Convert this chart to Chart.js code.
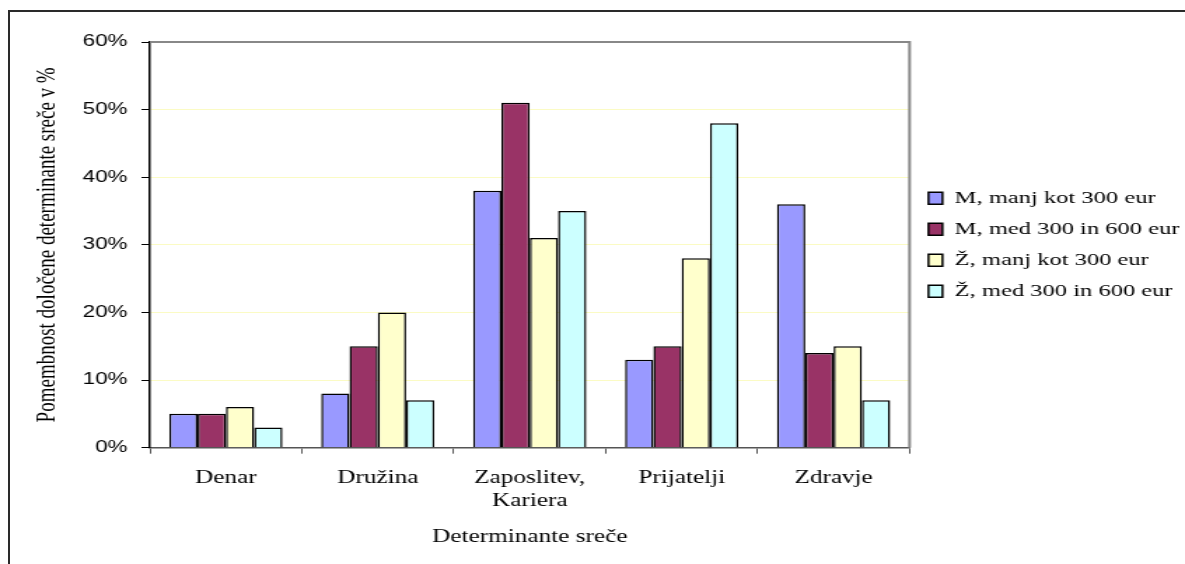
<!DOCTYPE html>
<html>
<head>
<meta charset="utf-8">
<script src="https://cdn.jsdelivr.net/npm/chart.js@4/dist/chart.umd.min.js"></script>
<style>
  html, body { margin: 0; padding: 0; background: #fff; overflow: hidden; }
  #frame {
    position: absolute; left: 8px; top: 10px; width: 1400px; height: 800px;
    border-top: 2px solid #2a2a2a; border-left: 2px solid #2a2a2a;
  }
  #chart { position: absolute; left: 0; top: 0; width: 1185px; height: 564px; }
</style>
</head>
<body>
<div id="frame"></div>
<canvas id="chart" width="846" height="564" style="width:1185px;height:564px"></canvas>
<script>
// categories and series (percent)
const categories = ["Denar", "Družina", ["Zaposlitev,", "Kariera"], "Prijatelji", "Zdravje"];
const seriesNames = ["M, manj kot 300 eur", "M, med 300 in 600 eur", "Ž, manj kot 300 eur", "Ž, med 300 in 600 eur"];
const mLow = [5, 8, 38, 13, 36];
const mMid = [5, 15, 51, 15, 14];
const zLow = [6, 20, 31, 28, 15];
const zMid = [3, 7, 35, 48, 7];
const seriesColors = ["#9999ff", "#993366", "#ffffcc", "#ccffff"];

const serif = "'Liberation Serif', 'Times New Roman', serif";
const sans = "'Liberation Sans', Arial, sans-serif";

// gray border on the top and right side of the plot area
const plotFrame = {
  id: "plotFrame",
  afterDraw(chart) {
    const { ctx, chartArea: a } = chart;
    ctx.save();
    ctx.strokeStyle = "#888";
    ctx.lineWidth = 2;
    ctx.beginPath();
    ctx.moveTo(a.left, a.top);
    ctx.lineTo(a.right, a.top);
    ctx.lineTo(a.right, a.bottom);
    ctx.stroke();
    ctx.restore();
  }
};

const values = [mLow, mMid, zLow, zMid];

new Chart(document.getElementById("chart"), {
  type: "bar",
  data: {
    labels: categories,
    datasets: values.map((v, i) => ({
      label: seriesNames[i],
      data: v,
      backgroundColor: seriesColors[i],
      borderColor: "#000",
      borderWidth: 1.5,
      categoryPercentage: 0.745,
      barPercentage: 1
    }))
  },
  options: {
    responsive: false,
    animation: false,
    events: [],
    layout: { padding: { top: 42, left: 22.6, right: -6, bottom: 12 } },
    plugins: {
      tooltip: { enabled: false },
      legend: {
        position: "right",
        fullSize: false,
        labels: {
          color: "#000",
          font: { family: serif, size: 17.5 },
          boxWidth: 10,
          boxHeight: 12,
          padding: 13.5
        }
      }
    },
    scales: {
      x: {
        grid: { display: true, drawOnChartArea: false, offset: true, tickLength: 6, tickColor: "#555", tickWidth: 1 },
        border: { color: "#555", width: 1.5 },
        ticks: { color: "#000", font: { family: serif, size: 18, lineHeight: 1.27 }, padding: 13, maxRotation: 0, autoSkip: false },
        title: {
          display: true,
          text: "Determinante sreče",
          color: "#000",
          font: { family: serif, size: 18 },
          padding: { top: 1, bottom: 4 }
        }
      },
      y: {
        min: 0,
        max: 60,
        grid: { color: "#fbfbc4", lineWidth: 1, tickColor: "#000", tickLength: 6 },
        border: { color: "#000", width: 1.5 },
        ticks: {
          stepSize: 10,
          color: "#000",
          padding: 10,
          font: { family: sans, size: 16 },
          callback: (v) => v + "%"
        },
        title: {
          display: true,
          text: "Pomembnost določene determinante sreče v %",
          color: "#000",
          font: { family: serif, size: 19 },
          padding: { top: 0, bottom: 3.6 }
        }
      }
    }
  },
  plugins: [plotFrame]
});
</script>
</body>
</html>
